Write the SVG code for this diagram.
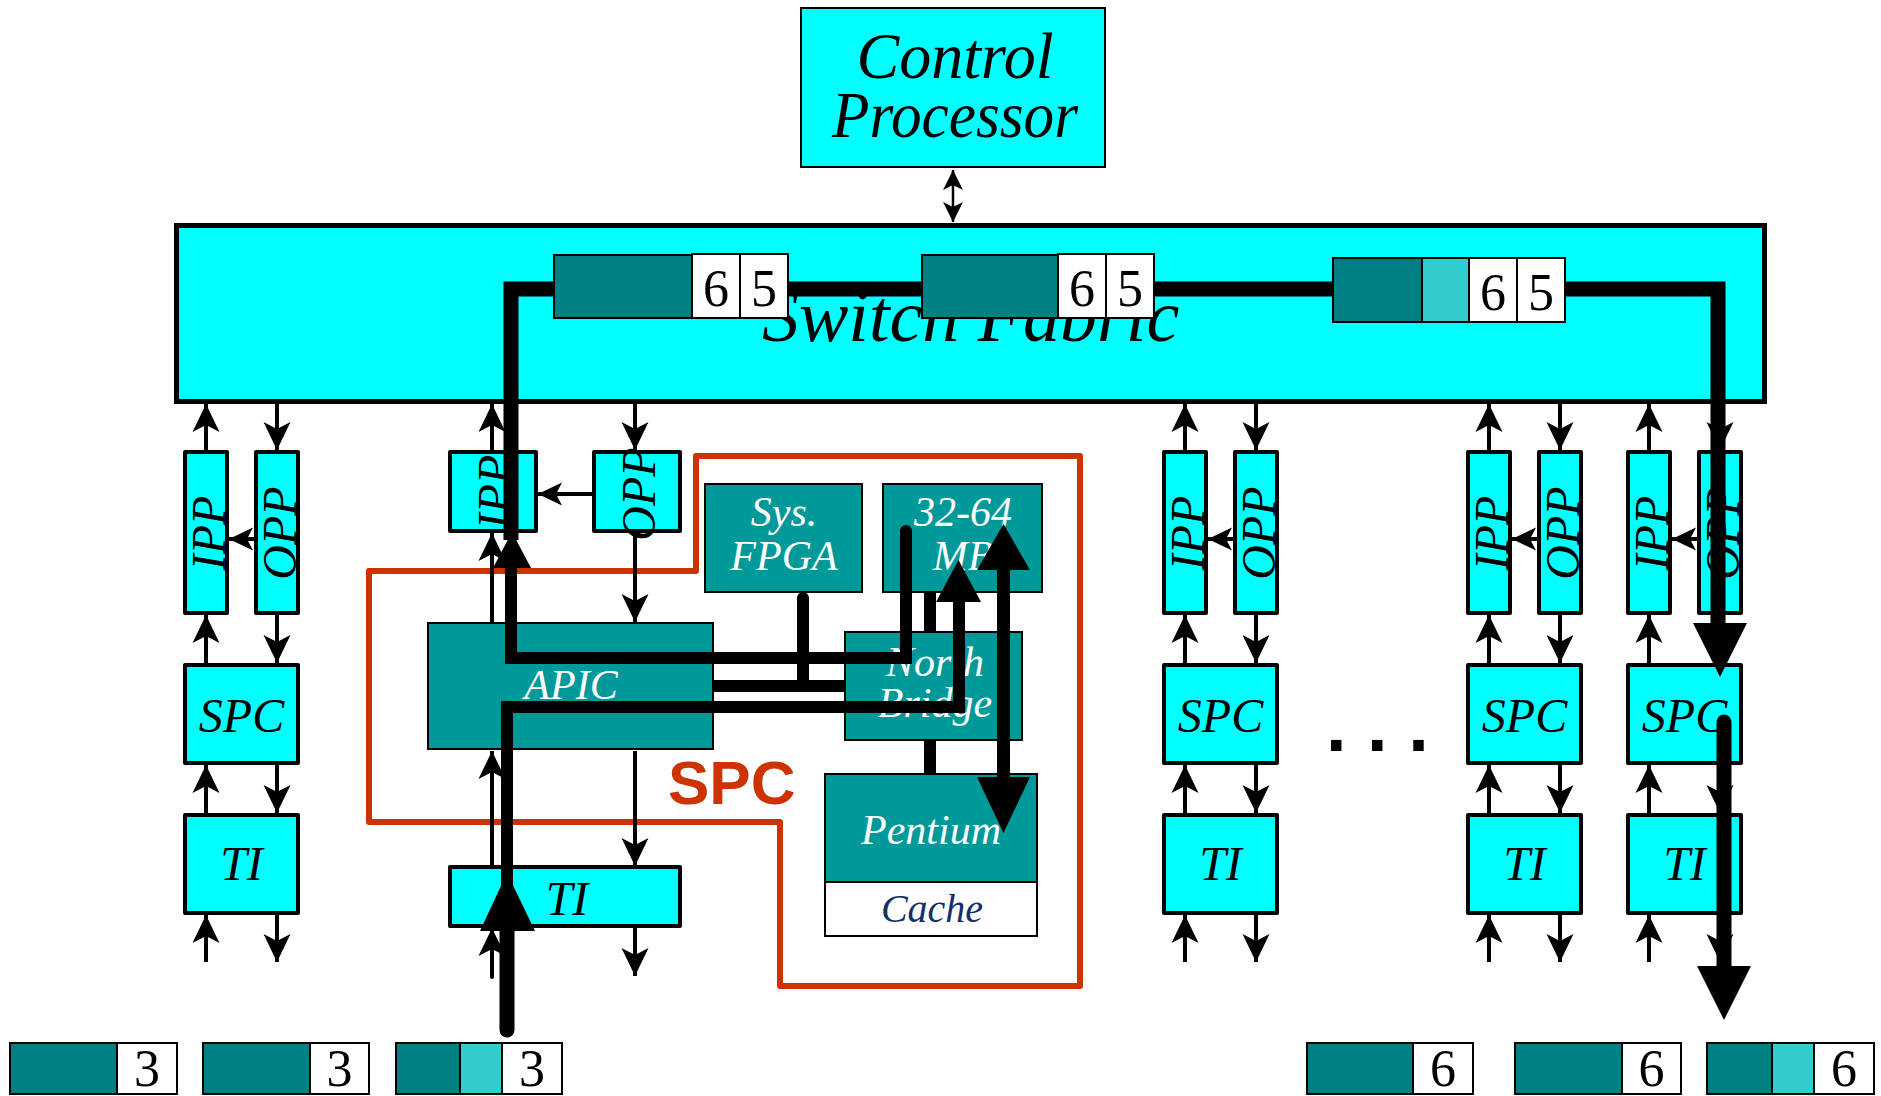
<svg xmlns="http://www.w3.org/2000/svg" width="1881" height="1096" viewBox="0 0 1881 1096">
<style>
.cy{fill:#00FFFF;stroke:#000;stroke-width:4;stroke-linejoin:round}
.tl{fill:#009999;stroke:#000;stroke-width:2}
.pk{fill:#008080;stroke:#000;stroke-width:2}
.lt{fill:#33CCCC;stroke:#000;stroke-width:2}
.wh{fill:#FFFFFF;stroke:#000;stroke-width:2}
.it{font-family:"Liberation Serif","Times New Roman",serif;font-style:italic;text-anchor:middle;fill:#000}
.big{font-size:48px}
.in{font-size:42px;fill:#FFFFFF}
.num{font-family:"Liberation Serif","Times New Roman",serif;font-size:52px;text-anchor:middle;fill:#000}
.ar{stroke:#000;stroke-width:4;fill:none;marker-end:url(#ah)}
.arh{stroke:#000;stroke-width:4;fill:none;marker-end:url(#ahs)}
.tk{stroke:#000;fill:none;stroke-linejoin:miter}
.hd{fill:#000;stroke:none}
</style>
<defs>
<marker id="ah" viewBox="-28 -14 28 28" refX="0" refY="0" markerWidth="28" markerHeight="28" markerUnits="userSpaceOnUse" orient="auto"><path d="M0,0 L-28,-13.5 L-21,0 L-28,13.5 Z" fill="#000"/></marker>
<marker id="ahs" viewBox="-24 -12 24 24" refX="0" refY="0" markerWidth="24" markerHeight="24" markerUnits="userSpaceOnUse" orient="auto"><path d="M0,0 L-24,-11.5 L-18,0 L-24,11.5 Z" fill="#000"/></marker>
<marker id="ahc" viewBox="-20 -10 20 20" refX="0" refY="0" markerWidth="20" markerHeight="20" markerUnits="userSpaceOnUse" orient="auto-start-reverse"><path d="M0,0 L-20,-10 L-15,0 L-20,10 Z" fill="#000"/></marker>
</defs>
<rect width="1881" height="1096" fill="#FFFFFF"/>

<g id="control-processor">
<rect x="801" y="8" width="304" height="159" fill="#00FFFF" stroke="#000" stroke-width="2"/>
<text class="it" x="955" y="78" font-size="66" textLength="197" lengthAdjust="spacingAndGlyphs">Control</text>
<text class="it" x="955" y="137" font-size="66" textLength="246" lengthAdjust="spacingAndGlyphs">Processor</text>
</g>

<g id="switch-fabric">
<rect x="176.5" y="225.5" width="1588" height="176" fill="#00FFFF" stroke="#000" stroke-width="5"/>
<text class="it" x="762" y="341" font-size="74" style="text-anchor:start">Switch Fabric</text>
</g>

<!-- column 1 -->
<g id="col1-ipp"><rect class="cy" x="185" y="452" width="42" height="161"/><text class="it big" transform="translate(225,533) rotate(-90)">IPP</text></g>
<g id="col1-opp"><rect class="cy" x="256" y="452" width="42" height="161"/><text class="it big" transform="translate(296,533) rotate(-90)">OPP</text></g>
<g id="col1-spc"><rect class="cy" x="185" y="665" width="113" height="98"/><text class="it big" x="241.5" y="732">SPC</text></g>
<g id="col1-ti"><rect class="cy" x="185" y="815" width="113" height="98"/><text class="it big" x="241.5" y="880">TI</text></g>

<!-- column A -->
<g id="colA-ipp"><rect class="cy" x="1164" y="452" width="42" height="161"/><text class="it big" transform="translate(1204,533) rotate(-90)">IPP</text></g>
<g id="colA-opp"><rect class="cy" x="1235" y="452" width="42" height="161"/><text class="it big" transform="translate(1275,533) rotate(-90)">OPP</text></g>
<g id="colA-spc"><rect class="cy" x="1164" y="665" width="113" height="98"/><text class="it big" x="1220.5" y="732">SPC</text></g>
<g id="colA-ti"><rect class="cy" x="1164" y="815" width="113" height="98"/><text class="it big" x="1220.5" y="880">TI</text></g>

<!-- column B -->
<g id="colB-ipp"><rect class="cy" x="1468" y="452" width="42" height="161"/><text class="it big" transform="translate(1508,533) rotate(-90)">IPP</text></g>
<g id="colB-opp"><rect class="cy" x="1539" y="452" width="42" height="161"/><text class="it big" transform="translate(1579,533) rotate(-90)">OPP</text></g>
<g id="colB-spc"><rect class="cy" x="1468" y="665" width="113" height="98"/><text class="it big" x="1524.5" y="732">SPC</text></g>
<g id="colB-ti"><rect class="cy" x="1468" y="815" width="113" height="98"/><text class="it big" x="1524.5" y="880">TI</text></g>

<!-- column C -->
<g id="colC-ipp"><rect class="cy" x="1628" y="452" width="42" height="161"/><text class="it big" transform="translate(1668,533) rotate(-90)">IPP</text></g>
<g id="colC-opp"><rect class="cy" x="1699" y="452" width="42" height="161"/><text class="it big" transform="translate(1739,533) rotate(-90)">OPP</text></g>
<g id="colC-spc"><rect class="cy" x="1628" y="665" width="113" height="98"/><text class="it big" x="1684.5" y="732">SPC</text></g>
<g id="colC-ti"><rect class="cy" x="1628" y="815" width="113" height="98"/><text class="it big" x="1684.5" y="880">TI</text></g>

<g id="ellipsis"><text x="1326" y="751" font-family="'Liberation Sans',Arial,sans-serif" font-weight="bold" font-size="74">. . .</text></g>

<!-- SPC detail column -->
<g id="spc-outline"><path d="M369,571 H696 V456 H1080 V986 H780 V822 H369 Z" fill="none" stroke="#CC3300" stroke-width="6" stroke-linejoin="round"/>
<text x="668" y="804" font-family="'Liberation Sans',Arial,sans-serif" font-weight="bold" font-size="62" fill="#CC3300">SPC</text></g>

<g id="col2-ipp"><rect class="cy" x="450" y="452" width="86" height="79"/><text class="it big" transform="translate(511,492) rotate(-90)">IPP</text></g>
<g id="col2-opp"><rect class="cy" x="594" y="452" width="86" height="79"/><text class="it big" transform="translate(655,494) rotate(-90)">OPP</text></g>
<g id="col2-ti"><rect class="cy" x="450" y="867" width="230" height="59"/><text class="it big" x="567" y="915">TI</text></g>

<g id="sys-fpga"><rect class="tl" x="705" y="484" width="157" height="108"/><text class="it in" x="784" y="526">Sys.</text><text class="it in" x="784" y="570">FPGA</text></g>
<g id="memory"><rect class="tl" x="883" y="484" width="159" height="108"/><text class="it in" x="963" y="526">32-64</text><text class="it in" x="963" y="570">MB</text></g>
<g id="apic"><rect class="tl" x="428" y="623" width="285" height="126"/><text class="it in" x="571" y="699" font-size="40">APIC</text></g>
<g id="north-bridge"><rect class="tl" x="845" y="632" width="177" height="108"/><text class="it in" x="935" y="676">North</text><text class="it in" x="935" y="717">Bridge</text></g>
<g id="pentium"><rect class="tl" x="825" y="774" width="212" height="108"/><text class="it in" x="931" y="844" font-size="44">Pentium</text></g>
<g id="cache"><rect class="wh" x="825" y="882" width="212" height="54"/><text class="it" x="932" y="922" font-size="40" style="fill:#14306A">Cache</text></g>

<!-- bottom packets -->
<g id="in-packet-1"><rect class="pk" x="10" y="1043" width="107" height="51"/><rect class="wh" x="117" y="1043" width="60" height="51"/><text class="num" x="147" y="1086">3</text></g>
<g id="in-packet-2"><rect class="pk" x="203" y="1043" width="107" height="51"/><rect class="wh" x="310" y="1043" width="59" height="51"/><text class="num" x="339.5" y="1086">3</text></g>
<g id="in-packet-3"><rect class="pk" x="396" y="1043" width="64" height="51"/><rect class="lt" x="460" y="1043" width="42" height="51"/><rect class="wh" x="502" y="1043" width="60" height="51"/><text class="num" x="532" y="1086">3</text></g>
<g id="out-packet-1"><rect class="pk" x="1307" y="1043" width="106" height="51"/><rect class="wh" x="1413" y="1043" width="60" height="51"/><text class="num" x="1443" y="1086">6</text></g>
<g id="out-packet-2"><rect class="pk" x="1515" y="1043" width="107" height="51"/><rect class="wh" x="1622" y="1043" width="59" height="51"/><text class="num" x="1651.5" y="1086">6</text></g>
<g id="out-packet-3"><rect class="pk" x="1707" y="1043" width="65" height="51"/><rect class="lt" x="1772" y="1043" width="42" height="51"/><rect class="wh" x="1814" y="1043" width="60" height="51"/><text class="num" x="1844" y="1086">6</text></g>

<g id="connectors">
<path d="M953,170 V222" stroke="#000" stroke-width="2.5" fill="none" marker-start="url(#ahc)" marker-end="url(#ahc)"/>
<!-- column 1 -->
<path class="ar" d="M206,450 V404"/><path class="ar" d="M277,404 V450"/>
<path class="arh" d="M254,539 H229"/>
<path class="ar" d="M206,663 V615"/><path class="ar" d="M277,615 V663"/>
<path class="ar" d="M206,813 V765"/><path class="ar" d="M277,765 V813"/>
<path class="ar" d="M206,962 V915"/><path class="ar" d="M277,915 V962"/>
<!-- column A -->
<path class="ar" d="M1185,450 V404"/><path class="ar" d="M1256,404 V450"/>
<path class="arh" d="M1233,539 H1208"/>
<path class="ar" d="M1185,663 V615"/><path class="ar" d="M1256,615 V663"/>
<path class="ar" d="M1185,813 V765"/><path class="ar" d="M1256,765 V813"/>
<path class="ar" d="M1185,962 V915"/><path class="ar" d="M1256,915 V962"/>
<!-- column B -->
<path class="ar" d="M1489,450 V404"/><path class="ar" d="M1560,404 V450"/>
<path class="arh" d="M1537,539 H1512"/>
<path class="ar" d="M1489,663 V615"/><path class="ar" d="M1560,615 V663"/>
<path class="ar" d="M1489,813 V765"/><path class="ar" d="M1560,765 V813"/>
<path class="ar" d="M1489,962 V915"/><path class="ar" d="M1560,915 V962"/>
<!-- column C -->
<path class="ar" d="M1649,450 V404"/><path class="ar" d="M1720,404 V450"/>
<path class="arh" d="M1697,539 H1672"/>
<path class="ar" d="M1649,663 V615"/><path class="ar" d="M1720,615 V663"/>
<path class="ar" d="M1649,813 V765"/><path class="ar" d="M1720,765 V813"/>
<path class="ar" d="M1649,962 V915"/><path class="ar" d="M1720,915 V962"/>
<!-- SPC detail column -->
<path class="ar" d="M492,450 V404"/><path class="ar" d="M635,404 V450"/>
<path class="arh" d="M592,494 H538"/>
<path class="ar" d="M492,622 V533"/><path class="ar" d="M635,533 V622"/>
<path class="ar" d="M492,868 V751"/><path class="ar" d="M635,751 V866"/>
<path class="ar" d="M492,977 V928" stroke-linecap="round"/><path class="ar" d="M635,928 V976"/>
<!-- internal buses -->
<path class="tk" stroke-width="12" d="M713,686 H845"/>
<path class="tk" stroke-width="12" stroke-linecap="round" d="M803,598 V686"/>
<path class="tk" stroke-width="12" d="M930,592 V632"/>
<path class="tk" stroke-width="12" d="M930,740 V774"/>
<!-- packet flow paths -->
<path class="tk" stroke-width="12" stroke-linecap="round" d="M906,531 V658 H511 V560"/>
<polygon class="hd" points="512,532 493,568 531,568"/>
<path class="tk" stroke-width="15" d="M511,540 V289 H1718 V630"/>
<polygon class="hd" points="1720,677 1693,623 1747,623"/>
<path class="tk" stroke-width="15" stroke-linecap="round" d="M1724,722 V970"/>
<polygon class="hd" points="1724,1020 1697,966 1751,966"/>
<path class="tk" stroke-width="15" stroke-linecap="round" d="M507,1030 V920"/>
<polygon class="hd" points="507,873 480,931 535,931"/>
<path class="tk" stroke-width="12" d="M507,890 V707 H959 V598"/>
<polygon class="hd" points="958.5,560 936,602 981,602"/>
<path class="tk" stroke-width="13" d="M1003.5,565 V782"/>
<polygon class="hd" points="1003.5,524 977,570 1030,570"/>
<polygon class="hd" points="1003.5,833 977,777 1030,777"/>
</g>

<!-- packets inside the switch fabric sit on top of the flow path -->
<g id="fabric-packet-1">
<rect class="pk" x="554" y="255" width="138" height="63"/>
<rect class="wh" x="692" y="254" width="48" height="64"/>
<rect class="wh" x="740" y="254" width="48" height="64"/>
<text class="num" x="716" y="306">6</text>
<text class="num" x="764" y="306">5</text>
</g>
<g id="fabric-packet-2">
<rect class="pk" x="922" y="255" width="136" height="63"/>
<rect class="wh" x="1058" y="254" width="48" height="64"/>
<rect class="wh" x="1106" y="254" width="48" height="64"/>
<text class="num" x="1082" y="306">6</text>
<text class="num" x="1130" y="306">5</text>
</g>
<g id="fabric-packet-3">
<rect class="pk" x="1333" y="258" width="89" height="64"/>
<rect class="lt" x="1422" y="258" width="47" height="64"/>
<rect class="wh" x="1469" y="258" width="48" height="64"/>
<rect class="wh" x="1517" y="258" width="48" height="64"/>
<text class="num" x="1493" y="310">6</text>
<text class="num" x="1541" y="310">5</text>
</g>
</svg>
